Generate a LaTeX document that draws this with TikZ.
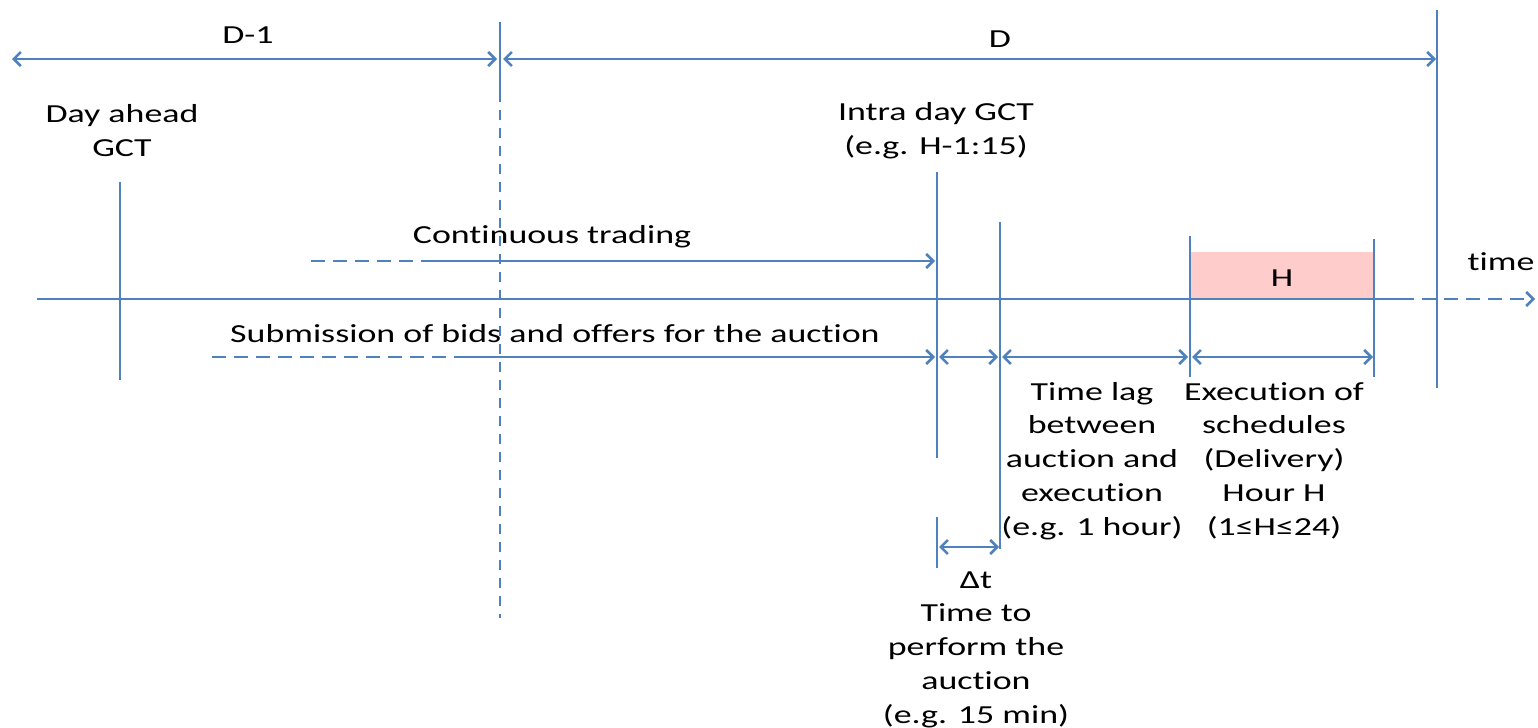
\documentclass[tikz,border=0pt]{standalone}
\usepackage{fontspec}
\setmainfont{Carlito}[FakeStretch=1.38,Ligatures=NoCommon]
\usetikzlibrary{arrows.meta}
\definecolor{lineblue}{RGB}{79,129,189}
\definecolor{hpink}{RGB}{255,204,204}
\begin{document}
\begin{tikzpicture}[x=0.5pt,y=-0.5pt,
  ln/.style={draw=lineblue,line width=1.3pt},
  dshh/.style={ln,dash pattern=on 7pt off 4pt},
  dshv/.style={ln,dash pattern=on 5pt off 4pt},
  tipend/.style={-{Straight Barb[length=3.5pt,width=7pt]}},
  tipboth/.style={{Straight Barb[length=3.5pt,width=7pt]}-{Straight Barb[length=3.5pt,width=7pt]}},
  lbl/.style={font=\fontsize{13}{16.85}\selectfont,align=center,inner sep=0pt,anchor=base}]
\useasboundingbox (0,0) rectangle (1538,728);
% H box
\node[fill=hpink,inner sep=0pt,minimum width=92pt,minimum height=23.5pt,anchor=south west] (hbox) at (1190,299) {};
\node[lbl] (hlab) at (1282,286) {H};
% top day arrows
\coordinate (dmL) at (12,59); \coordinate (dmR) at (497,59);
\coordinate (dL) at (503,59); \coordinate (dR) at (1436,59);
\draw[ln,tipboth] (dmL) -- (dmR);
\draw[ln,tipboth] (dL) -- (dR);
\node[lbl] (dmlab) at (248,43) {D-1};
\node[lbl] (dlab) at (1000,47) {D};
% day boundary lines
\coordinate (va) at (500,22); \coordinate (vb) at (500,92); \coordinate (vc) at (500,618);
\draw[ln] (va) -- (vb);
\draw[dshv] (vb) -- (vc);
\coordinate (ea) at (1437,10); \coordinate (eb) at (1437,388);
\draw[ln] (ea) -- (eb);
% Day ahead GCT
\node[lbl] (dag) at (122,156) {Day ahead\\GCT};
\coordinate (ga) at (120,182); \coordinate (gb) at (120,380);
\draw[ln] (ga) -- (gb);
% Intra day GCT
\node[lbl] (idg) at (936,154) {Intra day GCT\\(e.g. H-1:15)};
\coordinate (ia) at (937,172); \coordinate (ib) at (937,458);
\draw[ln] (ia) -- (ib);
\coordinate (ja) at (1000,222); \coordinate (jb) at (1000,549);
\draw[ln] (ja) -- (jb);
% H lines
\coordinate (ha) at (1190,236); \coordinate (hb) at (1190,377);
\coordinate (hc) at (1374,239); \coordinate (hd) at (1374,377);
\draw[ln] (ha) -- (hb);
\draw[ln] (hc) -- (hd);
% time axis
\coordinate (ta) at (37,299); \coordinate (tb) at (1400,299); \coordinate (tc) at (1535,299);
\draw[ln] (ta) -- (tb);
\draw[dshh,tipend] (tb) -- (tc);
\node[lbl] (tlab) at (1501,270) {time};
% continuous trading
\coordinate (ca) at (311,261); \coordinate (cb) at (423,261); \coordinate (cc) at (935,261);
\draw[dshh] (ca) -- (cb);
\draw[ln,tipend] (cb) -- (cc);
\node[lbl] (ctlab) at (552,243) {Continuous trading};
% submission
\coordinate (sa) at (212,357); \coordinate (sb) at (464,357); \coordinate (sc) at (935,357);
\draw[dshh] (sa) -- (sb);
\draw[ln,tipend] (sb) -- (sc);
\node[lbl] (sublab) at (555,342) {Submission of bids and offers for the auction};
% interval arrows
\coordinate (p1) at (939,357); \coordinate (p2) at (998,357);
\coordinate (p3) at (1002,357); \coordinate (p4) at (1188,357);
\coordinate (p5) at (1192,357); \coordinate (p6) at (1373,357);
\draw[ln,tipboth] (p1) -- (p2);
\draw[ln,tipboth] (p3) -- (p4);
\draw[ln,tipboth] (p5) -- (p6);
\node[lbl] (laglab) at (1092,535) {Time lag\\between\\auction and\\execution\\(e.g. 1 hour)};
\node[lbl] (exlab) at (1274,535) {Execution of\\schedules\\(Delivery)\\Hour H\\(1≤H≤24)};
% delta t
\coordinate (ka) at (937,517); \coordinate (kb) at (937,568);
\draw[ln] (ka) -- (kb);
\coordinate (q1) at (939,547); \coordinate (q2) at (999,547);
\draw[ln,tipboth] (q1) -- (q2);
\node[lbl] (dtlab) at (976,723) {Δt\\Time to\\perform the\\auction\\(e.g. 15 min)};
\end{tikzpicture}
\end{document}
